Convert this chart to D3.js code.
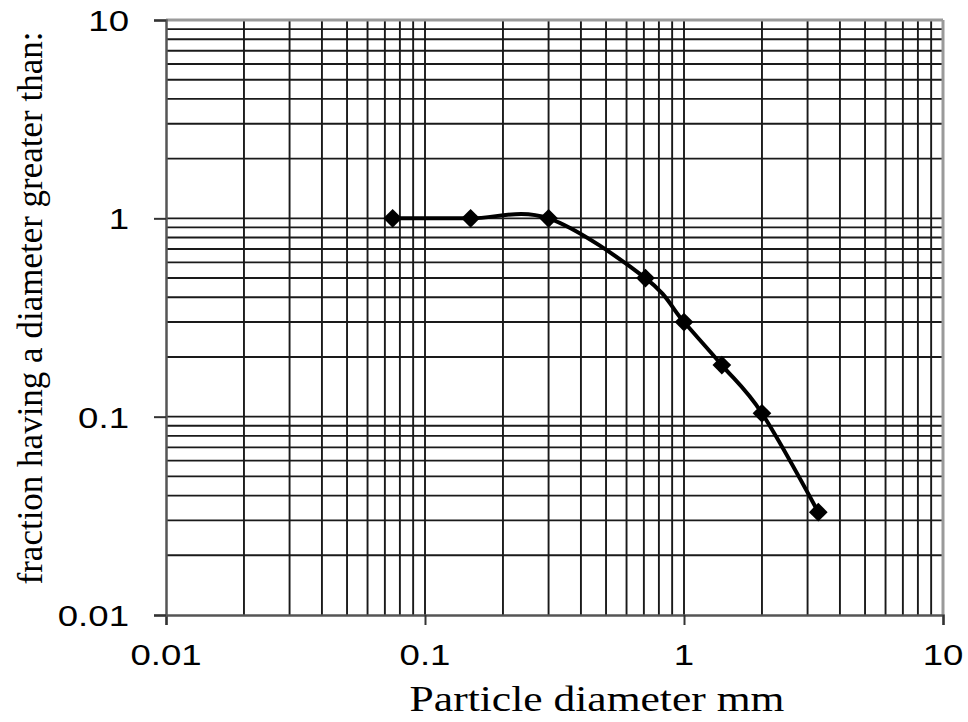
<!DOCTYPE html>
<html><head><meta charset="utf-8">
<script src="https://cdn.jsdelivr.net/npm/d3@7"></script>
<style>body{margin:0;background:#fff}svg{display:block}</style>
</head><body>
<svg id="c" width="968" height="722"></svg>
<script>
const diameters = [0.075, 0.15, 0.3, 0.71, 1.0, 1.4, 2.0, 3.3];
const fractions = [1.0, 1.0, 1.0, 0.5, 0.3, 0.182, 0.104, 0.033];
const decadeTicks = [0.01, 0.1, 1, 10];
const tickLabels = ["0.01", "0.1", "1", "10"];
const xTitle = "Particle diameter mm";
const yTitle = "fraction having a diameter greater than:";

const svg = d3.select("#c");
const L = 166, R = 943, T = 20, B = 615;
const x = d3.scaleLog().domain([0.01, 10]).range([L, R]);
const y = d3.scaleLog().domain([0.01, 10]).range([B, T]);

// minor grid values (1..9 x each decade)
const gridVals = [];
decadeTicks.slice(0, 3).forEach(d => { for (let k = 1; k <= 9; k++) gridVals.push(d * k); });
gridVals.push(10);

const g = svg.append("g");
g.selectAll("line.vg").data(gridVals.filter(v => v > 0.01 && v < 10)).join("line")
  .attr("x1", d => x(d)).attr("x2", d => x(d)).attr("y1", T).attr("y2", B)
  .attr("stroke", "#1a1a1a").attr("stroke-width", 1.9);
g.selectAll("line.hg").data(gridVals.filter(v => v > 0.01 && v < 10)).join("line")
  .attr("y1", d => y(d)).attr("y2", d => y(d)).attr("x1", L).attr("x2", R)
  .attr("stroke", "#1a1a1a").attr("stroke-width", 1.9);

// plot border (top/right lighter)
svg.append("line").attr("x1", L).attr("x2", R).attr("y1", T).attr("y2", T).attr("stroke", "#9a9a9a").attr("stroke-width", 3);
svg.append("line").attr("x1", R).attr("x2", R).attr("y1", T).attr("y2", B).attr("stroke", "#9a9a9a").attr("stroke-width", 3);

// axes
const xAxis = d3.axisBottom(x).tickValues(decadeTicks).tickSize(10).tickFormat("");
const yAxis = d3.axisLeft(y).tickValues(decadeTicks).tickSize(12).tickFormat("");
const gx = svg.append("g").attr("transform", `translate(0,${B})`).call(xAxis);
const gy = svg.append("g").attr("transform", `translate(${L},0)`).call(yAxis);
[gx, gy].forEach(a => {
  a.select(".domain").attr("stroke", "#555").attr("stroke-width", 2.5);
  a.selectAll(".tick line").attr("stroke", "#333").attr("stroke-width", 2);
});

// tick labels
const lab = svg.append("g").attr("font-family", "'Liberation Sans', Arial, sans-serif").attr("font-size", 30).attr("fill", "#000");
decadeTicks.forEach((v, i) => {
  lab.append("text").attr("transform", `translate(${x(v)},665) scale(1.22,1)`)
    .attr("text-anchor", "middle").text(tickLabels[i]);
  lab.append("text").attr("transform", `translate(129,${y(v) + 11}) scale(1.22,1)`)
    .attr("text-anchor", "end").text(tickLabels[i]);
});

// titles
svg.append("text").attr("transform", "translate(597,711) scale(1.21,1)")
  .attr("text-anchor", "middle").attr("font-family", "'Liberation Serif', 'Times New Roman', serif")
  .attr("font-size", 36).text(xTitle);
svg.append("text").attr("transform", "translate(42,308) rotate(-90)")
  .attr("text-anchor", "middle").attr("font-family", "'Liberation Serif', 'Times New Roman', serif")
  .attr("font-size", 35).text(yTitle);

// data
const pts = diameters.map((d, i) => [d, fractions[i]]);
const line = d3.line().x(d => x(d[0])).y(d => y(d[1])).curve(d3.curveCatmullRom.alpha(0));
svg.append("path").attr("d", line(pts)).attr("fill", "none").attr("stroke", "#000").attr("stroke-width", 4);
const sym = d3.symbol().type(d3.symbolSquare).size(175);
svg.selectAll("path.mk").data(pts).join("path").attr("class", "mk")
  .attr("d", sym).attr("transform", d => `translate(${x(d[0])},${y(d[1])}) rotate(45)`)
  .attr("fill", "#000");
</script>
</body></html>
